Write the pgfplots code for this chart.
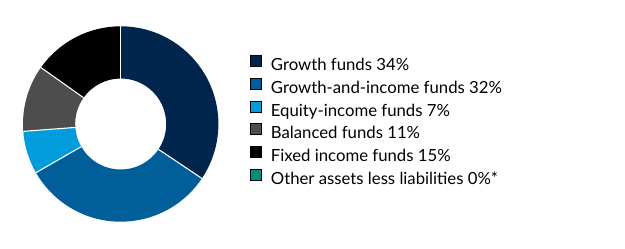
\documentclass[border=0pt]{standalone}
\usepackage{pgfplots}
\pgfplotsset{compat=1.18}
\usepackage{pgfplotstable}
\usepackage{fontspec}
\setmainfont{Lato}
\definecolor{cGrowth}{HTML}{00264D}
\definecolor{cGI}{HTML}{005E98}
\definecolor{cEI}{HTML}{009CDC}
\definecolor{cBal}{HTML}{4D4D4D}
\definecolor{cFix}{HTML}{000000}
\definecolor{cOther}{HTML}{008F7A}

\pgfplotstableread{
pct col
34.4 cGrowth
32.3 cGI
7.1 cEI
11.0 cBal
15.2 cFix
0.0 cOther
}\piedata

\def\cx{120.7}
\def\cy{124}
\def\ro{97.7}
\def\ri{45.5}

\begin{document}
\begin{tikzpicture}
\begin{axis}[x=1bp,y=1bp,xmin=0,xmax=625,ymin=0,ymax=248,
  hide axis, clip=false,
  legend cell align=left,
  legend image code/.code={\fill[#1] (0bp,0bp) rectangle (11bp,11bp);},
  legend style={at={(axis cs:249.5,193)}, anchor=north west, draw=none, fill=none,
    inner sep=0pt, outer sep=0pt, column sep=10bp, row sep=3.85bp,
    font=\fontsize{16.8}{19}\selectfont,
    nodes={inner sep=0pt, text height=12bp, text depth=3.5bp}},
]
\path (axis cs:0,0) rectangle (axis cs:625,248);
\pgfplotstablegetrowsof{\piedata}
\pgfmathtruncatemacro\N{\pgfplotsretval-1}
\def\angA{90}
\pgfplotsforeachungrouped \i in {0,...,\N}{%
  \pgfplotstablegetelem{\i}{pct}\of\piedata \let\pval\pgfplotsretval
  \pgfplotstablegetelem{\i}{col}\of\piedata \let\pcol\pgfplotsretval
  \pgfmathsetmacro\angB{\angA-3.6*\pval}%
  \pgfmathsetmacro\rd{\ro-\ri}%
  \edef\temp{\noexpand\fill[\pcol] (axis cs:\cx,\cy) ++(\angA:\ro bp)
     arc[start angle=\angA, end angle=\angB, radius=\ro bp]
     -- ++(\angB+180:\rd bp)
     arc[start angle=\angB, end angle=\angA, radius=\ri bp] -- cycle;}%
  \temp
  \edef\temp{\noexpand\draw[white, line width=1.1pt] (axis cs:\cx,\cy) ++(\angA:\ri bp) -- ++(\angA:\rd bp);}%
  \temp
  \let\angA\angB
}
\addlegendimage{fill=cGrowth}
\addlegendentry{Growth funds 34\%}
\addlegendimage{fill=cGI}
\addlegendentry{Growth-and-income funds 32\%}
\addlegendimage{fill=cEI}
\addlegendentry{Equity-income funds 7\%}
\addlegendimage{fill=cBal}
\addlegendentry{Balanced funds 11\%}
\addlegendimage{fill=cFix}
\addlegendentry{Fixed income funds 15\%}
\addlegendimage{fill=cOther}
\addlegendentry{Other assets less liabilities 0\%*}
\end{axis}
\end{tikzpicture}
\end{document}
